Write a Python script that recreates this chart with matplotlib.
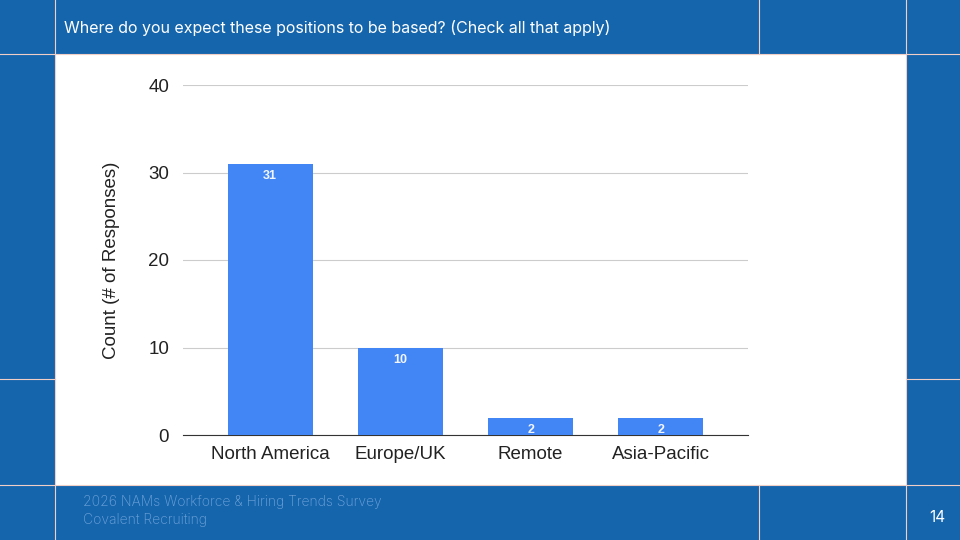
import matplotlib.pyplot as plt
from matplotlib.patches import Rectangle
from matplotlib.lines import Line2D

categories = ['North America', 'Europe/UK', 'Remote', 'Asia-Pacific']
counts = [31, 10, 2, 2]
yticks = [0, 10, 20, 30, 40]

W, H = 960, 540
blue = '#1565ad'
edge = '#f2cfc6'

fig = plt.figure(figsize=(9.6, 5.4), dpi=100)
fig.patch.set_facecolor(blue)

def fx(x):
    return x / W

def fy(y):
    return 1 - y / H

# white content panel (behind the axes)
fig.patches.append(Rectangle((fx(55), fy(485)), fx(906) - fx(55), fy(54) - fy(485),
                             transform=fig.transFigure, facecolor='white', edgecolor='none', zorder=-5))

# thin grid lines of the slide
for x in [55, 759, 906]:
    for (y0, y1) in [(0, 54), (485, 540)]:
        fig.lines.append(Line2D([fx(x), fx(x)], [fy(y0), fy(y1)], transform=fig.transFigure, color=edge, lw=0.8, zorder=-4))
fig.lines.append(Line2D([fx(55), fx(55)], [fy(54), fy(485)], transform=fig.transFigure, color=edge, lw=0.8, zorder=-4))
fig.lines.append(Line2D([fx(906), fx(906)], [fy(54), fy(485)], transform=fig.transFigure, color=edge, lw=0.8, zorder=-4))
for y in [54, 485]:
    fig.lines.append(Line2D([0, 1], [fy(y), fy(y)], transform=fig.transFigure, color=edge, lw=0.8, zorder=-4))
for (x0, x1) in [(0, 55), (906, 960)]:
    fig.lines.append(Line2D([fx(x0), fx(x1)], [fy(379), fy(379)], transform=fig.transFigure, color=edge, lw=0.8, zorder=-4))

fig.text(fx(64), fy(28), 'Where do you expect these positions to be based? (Check all that apply)',
         color='white', fontsize=11.5, family='Inter', va='center')
fig.text(fx(83), fy(502), '2026 NAMs Workforce & Hiring Trends Survey', color='#6fa2d8',
         fontsize=10, family='Inter', fontweight='light', va='center')
fig.text(fx(83), fy(520), 'Covalent Recruiting', color='#6fa2d8', fontsize=10, family='Inter',
         fontweight='light', va='center')
fig.text(fx(937), fy(518), '14', color='white', fontsize=11, family='Inter', va='center', ha='center')

chart_font = 'Liberation Sans'
ax = fig.add_axes([fx(183), fy(435), fx(748) - fx(183), fy(85) - fy(435)], zorder=1)
ax.set_facecolor('white')
x = range(len(categories))
ax.bar(x, counts, width=0.65, color='#4285f4', zorder=3)
for xi, v in zip(x, counts):
    ax.text(xi, v - 0.75, str(v), ha='center', va='top', color='#f2f6ff', fontsize=9,
            fontweight='bold', family=chart_font, zorder=4)
ax.set_xlim(-0.67, 3.67)
ax.set_ylim(0, 40)
ax.set_yticks(yticks)
ax.grid(axis='y', color='#cccccc', lw=0.8, zorder=0)
for s in ['top', 'right', 'left']:
    ax.spines[s].set_visible(False)
ax.spines['bottom'].set_color('#333333')
ax.tick_params(axis='both', length=0, labelsize=13.5, colors='#222222')
ax.tick_params(axis='y', pad=10)
ax.tick_params(axis='x', pad=8)
ax.set_xticks(list(x))
ax.set_xticklabels(categories)
for lab in ax.get_xticklabels() + ax.get_yticklabels():
    lab.set_family(chart_font)
ax.set_ylabel('Count (# of Responses)', fontsize=13.5, color='#222222', labelpad=20, family=chart_font)

fig.savefig('out.png', dpi=100, facecolor=fig.get_facecolor())
